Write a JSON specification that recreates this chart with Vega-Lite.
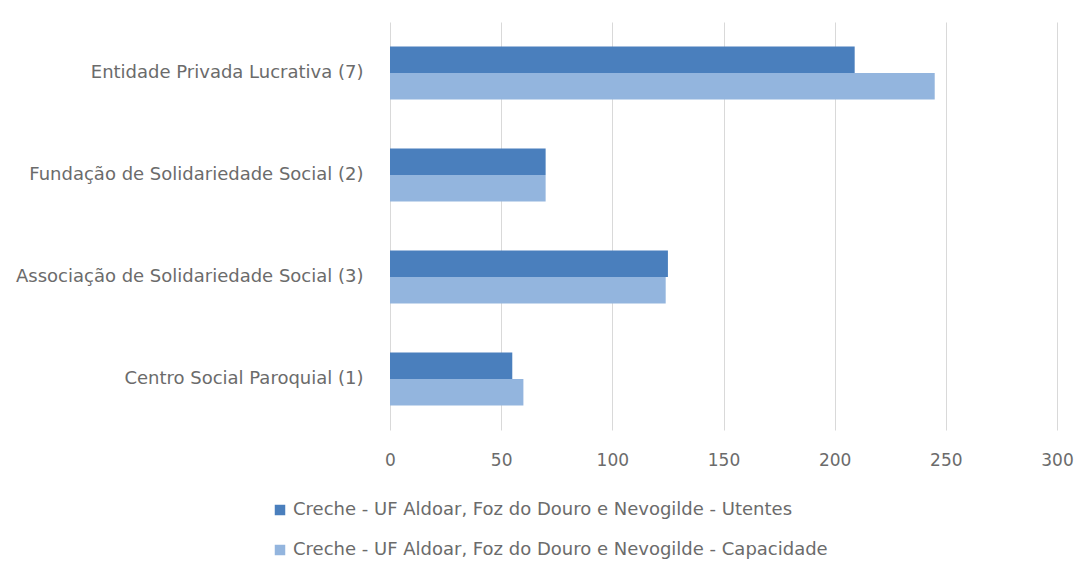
{
  "$schema": "https://vega.github.io/schema/vega-lite/v6.json",
  "width": 667,
  "height": 408,
  "autosize": {"type": "none"},
  "padding": {"left": 390, "top": 22, "right": 29, "bottom": 141},
  "background": "white",
  "config": {"view": {"stroke": null}, "font": "DejaVu Sans"},
  "data": {"values": [
    {"cat": "Entidade Privada Lucrativa (7)", "serie": "Creche - UF Aldoar, Foz do Douro e Nevogilde - Utentes", "v": 209},
    {"cat": "Entidade Privada Lucrativa (7)", "serie": "Creche - UF Aldoar, Foz do Douro e Nevogilde - Capacidade", "v": 245},
    {"cat": "Fundação de Solidariedade Social (2)", "serie": "Creche - UF Aldoar, Foz do Douro e Nevogilde - Utentes", "v": 70},
    {"cat": "Fundação de Solidariedade Social (2)", "serie": "Creche - UF Aldoar, Foz do Douro e Nevogilde - Capacidade", "v": 70},
    {"cat": "Associação de Solidariedade Social (3)", "serie": "Creche - UF Aldoar, Foz do Douro e Nevogilde - Utentes", "v": 125},
    {"cat": "Associação de Solidariedade Social (3)", "serie": "Creche - UF Aldoar, Foz do Douro e Nevogilde - Capacidade", "v": 124},
    {"cat": "Centro Social Paroquial (1)", "serie": "Creche - UF Aldoar, Foz do Douro e Nevogilde - Utentes", "v": 55},
    {"cat": "Centro Social Paroquial (1)", "serie": "Creche - UF Aldoar, Foz do Douro e Nevogilde - Capacidade", "v": 60}
  ]},
  "mark": {"type": "bar"},
  "encoding": {
    "y": {
      "field": "cat", "type": "nominal", "sort": null, "title": null,
      "scale": {"paddingInner": 0.48, "paddingOuter": 0.24},
      "axis": {"ticks": false, "domain": false, "labelFontSize": 18, "labelColor": "#6b6b6b", "labelPadding": 27, "labelLimit": 400}
    },
    "yOffset": {
      "field": "serie", "type": "nominal",
      "sort": ["Creche - UF Aldoar, Foz do Douro e Nevogilde - Utentes", "Creche - UF Aldoar, Foz do Douro e Nevogilde - Capacidade"]
    },
    "x": {
      "field": "v", "type": "quantitative", "title": null,
      "scale": {"domain": [0, 300], "nice": false},
      "axis": {"values": [0, 50, 100, 150, 200, 250, 300], "ticks": false, "domain": false, "gridColor": "#d9d9d9", "gridWidth": 1, "labelFontSize": 17, "labelColor": "#6b6b6b", "labelPadding": 22, "labelFlush": false}
    },
    "color": {
      "field": "serie", "type": "nominal",
      "scale": {
        "domain": ["Creche - UF Aldoar, Foz do Douro e Nevogilde - Utentes", "Creche - UF Aldoar, Foz do Douro e Nevogilde - Capacidade"],
        "range": ["#4a7fbd", "#93b5de"]
      },
      "legend": {
        "title": null, "orient": "none", "direction": "vertical",
        "legendX": -119, "legendY": 479,
        "symbolType": "square", "symbolSize": 110, "symbolStrokeWidth": 0,
        "labelFontSize": 18, "labelColor": "#6b6b6b", "labelOffset": 4, "labelLimit": 700,
        "rowPadding": 22
      }
    }
  }
}
